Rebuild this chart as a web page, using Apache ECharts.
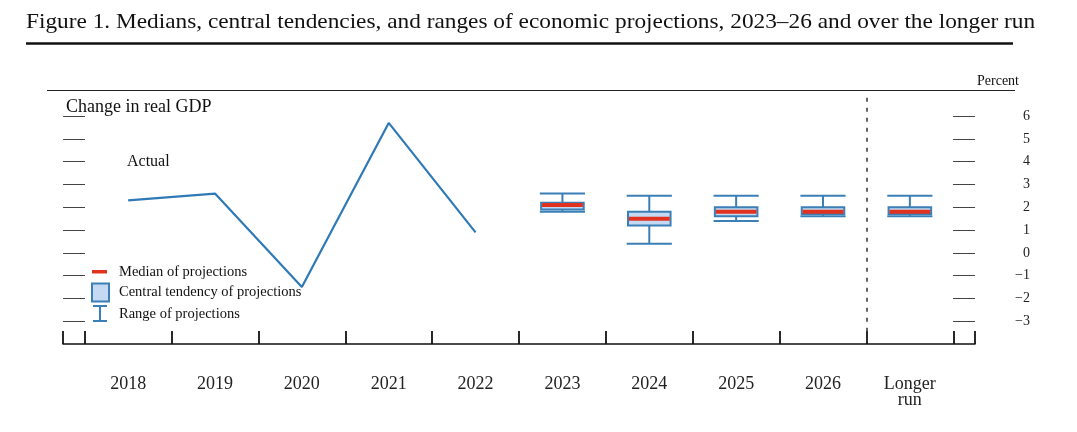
<!DOCTYPE html>
<html>
<head>
<meta charset="utf-8">
<script src="https://cdn.jsdelivr.net/npm/echarts@6/dist/echarts.min.js"></script>
<style>
html,body{margin:0;padding:0;background:#fff;}
#chart{width:1077px;height:432px;}
</style>
</head>
<body>
<div id="chart"></div>
<script>
// ---- data ----
const categories = ['2018', '2019', '2020', '2021', '2022', '2023', '2024', '2025', '2026', 'Longer\nrun'];
const actualIndex = [0, 1, 2, 3, 4];
const actualValues = [2.3, 2.6, -1.5, 5.7, 0.9];
const projIndex = [5, 6, 7, 8, 9];
const rangeLow = [1.8, 0.4, 1.4, 1.6, 1.6];
const ctLow = [1.9, 1.2, 1.6, 1.7, 1.7];
const medianValues = [2.1, 1.5, 1.8, 1.8, 1.8];
const ctHigh = [2.2, 1.8, 2.0, 2.0, 2.0];
const rangeHigh = [2.6, 2.5, 2.5, 2.5, 2.5];
const yTickValues = [-3, -2, -1, 0, 1, 2, 3, 4, 5, 6];
const xLabelValues = [0, 1, 2, 3, 4, 5, 6, 7, 8, 9];
const xTickValues = [-0.75, -0.5, 0.5, 1.5, 2.5, 3.5, 4.5, 5.5, 6.5, 7.5, 8.5, 9.5, 9.75];
const dividerX = 8.5;

const BLUE = '#2f7ab6';
const BOX_BORDER = '#3b7fb7';
const BOX_FILL = '#c5daf2';
const RED = '#e0321f';
const SERIF = "'Liberation Serif', 'Times New Roman', serif";

const chart = echarts.init(document.getElementById('chart'), null, {renderer: 'canvas'});

const lineData = actualIndex.map((x, i) => [x, actualValues[i]]);
const projData = projIndex.map((x, i) => [x, rangeLow[i], ctLow[i], medianValues[i], ctHigh[i], rangeHigh[i]]);

function renderRange(params, api) {
  const x = api.value(0);
  const lo = api.coord([x, api.value(1)]);
  const hi = api.coord([x, api.value(5)]);
  const half = api.size([0.52, 0])[0] / 2;
  const style = {stroke: BOX_BORDER, lineWidth: 2, fill: null};
  return {
    type: 'group',
    children: [
      {type: 'line', shape: {x1: lo[0], y1: lo[1], x2: hi[0], y2: hi[1]}, style: style},
      {type: 'line', shape: {x1: lo[0] - half, y1: lo[1], x2: lo[0] + half, y2: lo[1]}, style: style},
      {type: 'line', shape: {x1: hi[0] - half, y1: hi[1], x2: hi[0] + half, y2: hi[1]}, style: style}
    ]
  };
}
function renderBox(params, api) {
  const x = api.value(0);
  const lo = api.coord([x, api.value(2)]);
  const hi = api.coord([x, api.value(4)]);
  const w = api.size([0.49, 0])[0];
  return {
    type: 'rect',
    shape: {x: lo[0] - w / 2, y: hi[1], width: w, height: lo[1] - hi[1]},
    style: {fill: BOX_FILL, stroke: BOX_BORDER, lineWidth: 2}
  };
}
function renderMedian(params, api) {
  const x = api.value(0);
  const m = api.coord([x, api.value(3)]);
  const w = api.size([0.47, 0])[0];
  return {
    type: 'rect',
    shape: {x: m[0] - w / 2, y: m[1] - 2, width: w, height: 4},
    style: {fill: RED}
  };
}

const option = {
  animation: false,
  backgroundColor: '#fff',
  grid: {left: 63, right: 102, top: 91, bottom: 88, containLabel: false},
  legend: {
    orient: 'vertical',
    left: 90,
    top: 262,
    padding: 0,
    itemWidth: 18,
    itemHeight: 19.5,
    itemGap: 0,
    selectedMode: false,
    textStyle: {fontFamily: SERIF, fontSize: 14.5, color: '#111', padding: [0, 0, 0, 5]},
    data: [
      {name: 'Median of projections', icon: 'path://M0,0 M18,19.5 M1,8 L16,8 L16,11.5 L1,11.5 Z',
       itemStyle: {color: RED, borderWidth: 0}},
      {name: 'Central tendency of projections', icon: 'path://M0,0 M18,19.5 M1,1 L18,1 L18,19 L1,19 Z',
       itemStyle: {color: BOX_FILL, borderColor: BOX_BORDER, borderWidth: 2}},
      {name: 'Range of projections', icon: 'path://M0,0 M18,19.5 M2,2 L16,2 M9,2 L9,17 M2,17 L16,17',
       itemStyle: {color: 'rgba(0,0,0,0)', borderColor: BOX_BORDER, borderWidth: 2}}
    ]
  },
  xAxis: {
    type: 'value',
    min: -0.75,
    max: 9.75,
    splitLine: {show: false},
    axisLine: {show: true, onZero: false, lineStyle: {color: '#111', width: 1.6}},
    axisTick: {show: true, inside: true, length: 13, customValues: xTickValues,
               lineStyle: {color: '#111', width: 1.8}},
    axisLabel: {
      show: true, customValues: xLabelValues, margin: 32,
      fontFamily: SERIF, fontSize: 18, lineHeight: 16, color: '#222',
      formatter: function (v) { return categories[Math.round(v)] || ''; }
    }
  },
  yAxis: [
    {
      type: 'value', position: 'left', min: -4, max: 7.1,
      splitLine: {show: false},
      axisLine: {show: false, onZero: false},
      axisTick: {show: true, inside: true, length: 22, customValues: yTickValues,
                 lineStyle: {color: '#444', width: 1}},
      axisLabel: {show: false}
    },
    {
      type: 'value', position: 'right', min: -4, max: 7.1,
      splitLine: {show: false},
      axisLine: {show: false, onZero: false},
      axisTick: {show: true, inside: true, length: 22, customValues: yTickValues,
                 lineStyle: {color: '#444', width: 1}},
      axisLabel: {
        show: true, customValues: yTickValues, align: 'right', margin: 55,
        fontFamily: SERIF, fontSize: 14, color: '#222',
        formatter: function (v) { return String(v).replace('-', '\u2212'); }
      }
    }
  ],
  series: [
    {
      name: 'Actual',
      type: 'line',
      data: lineData,
      showSymbol: false,
      symbol: 'none',
      lineStyle: {color: BLUE, width: 2.2},
      itemStyle: {color: BLUE},
      z: 2,
      markLine: {
        silent: true,
        symbol: ['none', 'none'],
        label: {show: false},
        lineStyle: {color: '#333', width: 1.5, type: [4, 6]},
        data: [[{coord: [dividerX, 6.8]}, {coord: [dividerX, -4]}]]
      }
    },
    {
      name: 'Range of projections',
      type: 'custom',
      data: projData,
      renderItem: renderRange,
      itemStyle: {color: BOX_BORDER},
      encode: {x: 0, y: [1, 5]},
      z: 3
    },
    {
      name: 'Central tendency of projections',
      type: 'custom',
      data: projData,
      renderItem: renderBox,
      itemStyle: {color: BOX_FILL},
      encode: {x: 0, y: [2, 4]},
      z: 4
    },
    {
      name: 'Median of projections',
      type: 'custom',
      data: projData,
      renderItem: renderMedian,
      itemStyle: {color: RED},
      encode: {x: 0, y: 3},
      z: 5
    }
  ],
  graphic: [
    {type: 'text', x: 26, y: 12, scaleX: 1.11, style: {
      text: 'Figure 1. Medians, central tendencies, and ranges of economic projections, 2023\u201326 and over the longer run',
      fontFamily: SERIF, fontSize: 21, fill: '#111'}},
    {type: 'line', shape: {x1: 26, y1: 43.5, x2: 1013, y2: 43.5}, style: {stroke: '#111', lineWidth: 2.5}},
    {type: 'line', shape: {x1: 47, y1: 90.5, x2: 1015, y2: 90.5}, style: {stroke: '#222', lineWidth: 1.2}},
    {type: 'text', left: 977, top: 74, style: {text: 'Percent', fontFamily: SERIF, fontSize: 14, fill: '#111'}},
    {type: 'text', left: 66, top: 98, z: 10, style: {text: 'Change in real GDP', fontFamily: SERIF, fontSize: 18, fill: '#111'}},
    {type: 'text', left: 127, top: 154, style: {text: 'Actual', fontFamily: SERIF, fontSize: 16, fill: '#111'}}
  ]
};
chart.setOption(option);
</script>
</body>
</html>
